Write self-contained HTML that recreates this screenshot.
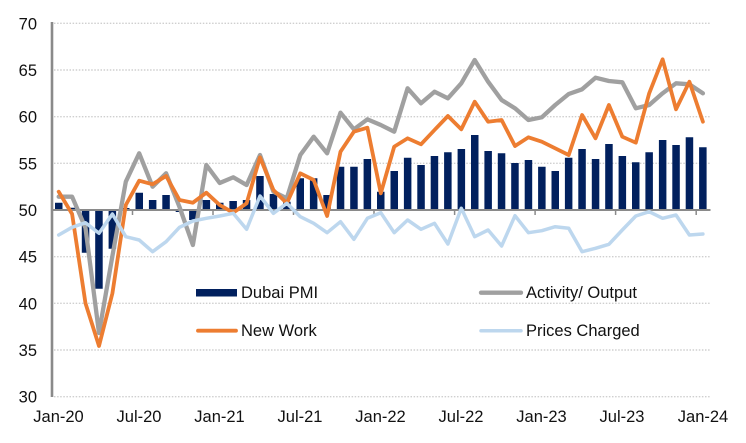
<!DOCTYPE html>
<html>
<head>
<meta charset="utf-8">
<style>
html,body{margin:0;padding:0;background:#fff;}
svg{display:block;}
text{font-family:"Liberation Sans",Arial,sans-serif;fill:#111;font-size:16.5px;}
</style>
</head>
<body>
<svg width="746" height="443" viewBox="0 0 746 443" xmlns="http://www.w3.org/2000/svg">
<path stroke="#cfcfcf" stroke-width="1.4" stroke-dasharray="1.5 1.6" fill="none" d="M54 23.3H710M54 70H710M54 116.7H710M54 163.3H710M54 256.7H710M54 303.3H710M54 350H710M54 396.7H710"/>
<g text-anchor="end">
<text x="37" y="29.3">70</text><text x="37" y="76">65</text><text x="37" y="122.7">60</text>
<text x="37" y="169.3">55</text><text x="37" y="216">50</text><text x="37" y="262.7">45</text>
<text x="37" y="309.3">40</text><text x="37" y="356">35</text><text x="37" y="402.7">30</text>
</g>
<g text-anchor="middle">
<text x="58.5" y="422">Jan-20</text><text x="139" y="422">Jul-20</text><text x="219.5" y="422">Jan-21</text>
<text x="300" y="422">Jul-21</text><text x="380.5" y="422">Jan-22</text><text x="461" y="422">Jul-22</text>
<text x="541.5" y="422">Jan-23</text><text x="622" y="422">Jul-23</text><text x="703" y="422">Jan-24</text>
</g>
<path fill="#01205e" d="M55 202.7h7.5V210h-7.5zM68.3 207.8h7.5V210h-7.5zM81.8 210h7.5V252.7h-7.5zM95.2 210h7.5V288.7h-7.5zM108.6 210h7.5V248.7h-7.5zM122 208h7.5V210h-7.5zM135.5 192.7h7.5V210h-7.5zM148.9 200h7.5V210h-7.5zM162.3 195h7.5V210h-7.5zM175.7 210h7.5V212h-7.5zM189.1 210h7.5V220h-7.5zM202.6 200h7.5V210h-7.5zM216 202.7h7.5V210h-7.5zM229.4 201h7.5V210h-7.5zM242.8 200h7.5V210h-7.5zM256.2 176h7.5V210h-7.5zM269.7 194h7.5V210h-7.5zM283.1 201.7h7.5V210h-7.5zM296.5 178.3h7.5V210h-7.5zM309.9 178.3h7.5V210h-7.5zM323.3 195h7.5V210h-7.5zM336.8 166.7h7.5V210h-7.5zM350.2 166.7h7.5V210h-7.5zM363.6 159h7.5V210h-7.5zM377 191.7h7.5V210h-7.5zM390.5 171h7.5V210h-7.5zM403.9 157.7h7.5V210h-7.5zM417.3 165h7.5V210h-7.5zM430.7 156h7.5V210h-7.5zM444.1 152.3h7.5V210h-7.5zM457.6 149h7.5V210h-7.5zM471 135h7.5V210h-7.5zM484.4 151h7.5V210h-7.5zM497.8 153.3h7.5V210h-7.5zM511.2 163h7.5V210h-7.5zM524.7 160h7.5V210h-7.5zM538.1 166.7h7.5V210h-7.5zM551.5 171h7.5V210h-7.5zM564.9 157.7h7.5V210h-7.5zM578.3 149h7.5V210h-7.5zM591.8 159h7.5V210h-7.5zM605.2 144h7.5V210h-7.5zM618.6 156h7.5V210h-7.5zM632 162.3h7.5V210h-7.5zM645.4 152.3h7.5V210h-7.5zM658.9 140h7.5V210h-7.5zM672.3 145h7.5V210h-7.5zM685.7 137.3h7.5V210h-7.5zM699.1 147.3h7.5V210h-7.5z"/>
<path stroke="#8a8a8a" stroke-width="2.6" d="M52 22V397"/>
<path stroke="#8a8a8a" stroke-width="2" d="M51 210H710.5"/>
<path stroke="#8a8a8a" stroke-width="1.5" d="M132.5 210v5M213 210v5M293.5 210v5M374 210v5M454.6 210v5M535.1 210v5M615.6 210v5M696.2 210v5"/>
<polyline fill="none" stroke="#a0a0a0" stroke-width="4.3" stroke-linejoin="round" stroke-linecap="round" points="58.7,196.7 72.1,196.7 85.5,228 99,333 112.4,256 125.8,181.7 139.2,153.3 152.6,186.7 166.1,173.3 179.5,207 192.9,245 206.3,165 219.7,183 233.2,177.3 246.6,185 260,155 273.4,191.7 286.8,198.3 300.3,155 313.7,136.7 327.1,153.3 340.5,112.7 353.9,129.3 367.4,119.3 380.8,125 394.2,131.7 407.6,88.3 421,103.3 434.5,91.7 447.9,98.3 461.3,83.3 474.7,60 488.1,81.7 501.6,100 515,108.3 528.4,120 541.8,117.3 555.2,105 568.7,94 582.1,89.3 595.5,77.7 608.9,81 622.3,82.3 635.8,108.3 649.2,105 662.6,93.3 676,83.3 689.4,84.3 702.9,93.3"/>
<polyline fill="none" stroke="#ed7d31" stroke-width="3.8" stroke-linejoin="round" stroke-linecap="round" points="58.7,191.7 72.1,214 85.5,303.3 99,346 112.4,293.3 125.8,205 139.2,180.7 152.6,184.3 166.1,176 179.5,200 192.9,202.7 206.3,192.7 219.7,205 233.2,212.7 246.6,203.3 260,157.3 273.4,190 286.8,203.3 300.3,173.3 313.7,180 327.1,216 340.5,151.7 353.9,131.7 367.4,127.7 380.8,193.3 394.2,146.7 407.6,138.3 421,144.3 434.5,130 447.9,116 461.3,129.3 474.7,101.7 488.1,121.7 501.6,120 515,146 528.4,137.3 541.8,141.7 555.2,148.3 568.7,155 582.1,115 595.5,138.3 608.9,105 622.3,136.7 635.8,142.7 649.2,93.3 662.6,59.3 676,109.3 689.4,81.7 702.9,121.7"/>
<polyline fill="none" stroke="#bdd7ee" stroke-width="3.5" stroke-linejoin="round" stroke-linecap="round" points="58.7,235 72.1,227.3 85.5,222.7 99,233.3 112.4,214 125.8,236.7 139.2,240 152.6,251.7 166.1,241.7 179.5,227.3 192.9,221 206.3,218.3 219.7,216 233.2,213.3 246.6,229.3 260,196 273.4,213.3 286.8,203.3 300.3,216.7 313.7,223.3 327.1,232.7 340.5,221.7 353.9,239.3 367.4,218.3 380.8,212.7 394.2,232.7 407.6,220 421,229.3 434.5,223.3 447.9,244 461.3,208.3 474.7,236.7 488.1,230 501.6,246 515,215.7 528.4,232.7 541.8,230.7 555.2,226.7 568.7,228.3 582.1,251.7 595.5,248.3 608.9,244.3 622.3,230 635.8,216 649.2,211.7 662.6,218.3 676,215 689.4,235 702.9,234"/>
<rect x="196" y="289" width="41" height="7.5" fill="#01205e"/>
<text x="241" y="298">Dubai PMI</text>
<path stroke="#ed7d31" stroke-width="3.8" stroke-linecap="round" d="M198 330.7H236"/>
<text x="241" y="336">New Work</text>
<path stroke="#a0a0a0" stroke-width="4.3" stroke-linecap="round" d="M481 292.7H521"/>
<text x="526" y="298">Activity/ Output</text>
<path stroke="#bdd7ee" stroke-width="3.5" stroke-linecap="round" d="M481 330.7H521"/>
<text x="526" y="336">Prices Charged</text>
</svg>
</body>
</html>
